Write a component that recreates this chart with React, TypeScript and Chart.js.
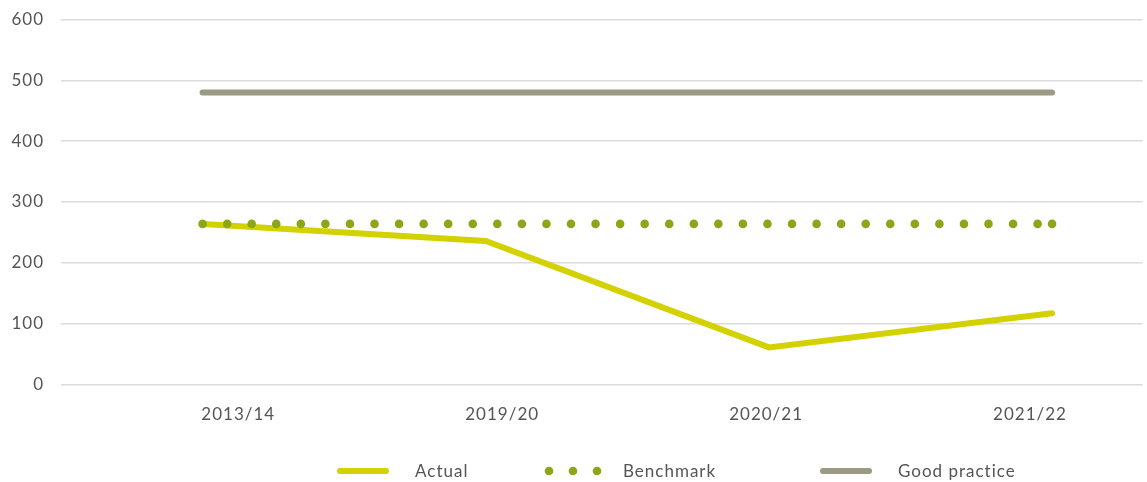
import React, { useEffect, useRef } from 'react';
import { Chart, registerables } from 'chart.js';

Chart.register(...registerables);

// ---- data ----
const categories = ['2013/14', '2019/20', '2020/21', '2021/22'];
const actual = [264, 236, 61, 117];
const benchmark = [264, 264, 264, 264];
const goodPractice = [480, 480, 480, 480];
const seriesLabels = ['Actual', 'Benchmark', 'Good practice'];
const yMin = 0;
const yMax = 600;
const yStep = 100;

// ---- styles ----
const FONT_FAMILY = 'Lato, "Open Sans", sans-serif';
const TEXT_COLOR = '#555555';
const GRID_COLOR = '#dcdcdc';
const ACTUAL_COLOR = '#d4d100';
const BENCH_COLOR = '#8ca61a';
const GOOD_COLOR = '#9b9a82';
const LETTER_SPACING = '1px';

const W = 1147;
const H = 482;

const spacingPlugin = {
  id: 'letterSpacing',
  beforeLayout(chart: any) {
    chart.ctx.letterSpacing = LETTER_SPACING;
  },
  beforeDraw(chart: any) {
    chart.ctx.letterSpacing = LETTER_SPACING;
  },
};

const legendPlugin = {
  id: 'customLegend',
  afterDraw(chart: any) {
    const ctx = chart.ctx as CanvasRenderingContext2D;
    const starts = [337, 545, 820];
    const y = 471;
    chart.data.datasets.forEach((ds: any, i: number) => {
      const x0 = starts[i];
      ctx.save();
      const color = ds.borderColor as string;
      if (ds.borderDash && ds.borderDash.length) {
        ctx.fillStyle = color;
        for (let k = 0; k < 3; k++) {
          ctx.beginPath();
          ctx.arc(x0 + 4 + k * 24, y, 4.3, 0, Math.PI * 2);
          ctx.fill();
        }
      } else {
        ctx.strokeStyle = color;
        ctx.lineWidth = 6;
        ctx.lineCap = 'round';
        ctx.beginPath();
        ctx.moveTo(x0 + 3, y);
        ctx.lineTo(x0 + 49, y);
        ctx.stroke();
      }
      ctx.fillStyle = TEXT_COLOR;
      ctx.font = `17px ${FONT_FAMILY}`;
      (ctx as any).letterSpacing = LETTER_SPACING;
      ctx.textBaseline = 'middle';
      ctx.textAlign = 'left';
      ctx.fillText(ds.label, x0 + 78, y + 1);
      ctx.restore();
    });
  },
};

export default function App() {
  const canvasRef = useRef<HTMLCanvasElement | null>(null);

  useEffect(() => {
    if (!canvasRef.current) return;
    const toPoints = (arr: number[]) => arr.map((v, i) => ({ x: i, y: v }));
    const xMin = -0.5;
    const xMax = 3.32;
    const labelPositions = categories.map((_, i) => 0.126 + i * 0.932);

    const chart = new Chart(canvasRef.current, {
      type: 'line',
      data: {
        datasets: [
          {
            label: seriesLabels[0],
            data: toPoints(actual),
            borderColor: ACTUAL_COLOR,
            backgroundColor: ACTUAL_COLOR,
            borderWidth: 6,
            borderCapStyle: 'round',
            borderJoinStyle: 'miter',
            pointRadius: 0,
            tension: 0,
            order: 1,
            xAxisID: 'x',
          },
          {
            label: seriesLabels[1],
            data: toPoints(benchmark),
            borderColor: BENCH_COLOR,
            backgroundColor: BENCH_COLOR,
            borderWidth: 8.6,
            borderDash: [0, 24.56],
            borderCapStyle: 'round',
            pointRadius: [0, 0, 0, 4.3],
            pointBorderWidth: 0,
            pointBackgroundColor: BENCH_COLOR,
            tension: 0,
            order: 0,
            xAxisID: 'x',
          },
          {
            label: seriesLabels[2],
            data: toPoints(goodPractice),
            borderColor: GOOD_COLOR,
            backgroundColor: GOOD_COLOR,
            borderWidth: 6,
            borderCapStyle: 'round',
            pointRadius: 0,
            tension: 0,
            order: 2,
            xAxisID: 'x',
          },
        ],
      },
      options: {
        animation: false,
        responsive: false,
        maintainAspectRatio: false,
        layout: { padding: { top: 19.5, right: 3, left: 0, bottom: 0 } },
        plugins: {
          legend: { display: false },
          tooltip: { enabled: false },
        },
        scales: {
          x: {
            type: 'linear',
            display: false,
            min: xMin,
            max: xMax,
          },
          xLabels: {
            type: 'linear',
            position: 'bottom',
            min: xMin,
            max: xMax,
            grid: { display: false, drawTicks: false },
            border: { display: false },
            afterBuildTicks: (axis: any) => {
              axis.ticks = labelPositions.map((v) => ({ value: v }));
            },
            afterFit: (axis: any) => {
              axis.height = H - 384.5;
              axis.paddingLeft = 0;
              axis.paddingRight = 0;
            },
            ticks: {
              autoSkip: false,
              maxRotation: 0,
              padding: 20,
              color: TEXT_COLOR,
              font: { family: FONT_FAMILY, size: 17 },
              callback: (_v: any, i: number) => categories[i],
            },
          },
          y: {
            type: 'linear',
            min: yMin,
            max: yMax,
            grid: { color: GRID_COLOR, lineWidth: 1.6, drawTicks: false },
            border: { display: false },
            afterFit: (axis: any) => {
              axis.width = 61;
              axis.paddingTop = 0;
              axis.paddingBottom = 0;
            },
            ticks: {
              stepSize: yStep,
              padding: 17,
              color: TEXT_COLOR,
              font: { family: FONT_FAMILY, size: 17 },
            },
          },
        },
      } as any,
      plugins: [spacingPlugin, legendPlugin],
    });
    return () => chart.destroy();
  }, []);

  return (
    <div style={{ position: 'absolute', left: 0, top: 0, width: W, height: H, background: '#fff' }}>
      <canvas ref={canvasRef} width={W} height={H} />
    </div>
  );
}
